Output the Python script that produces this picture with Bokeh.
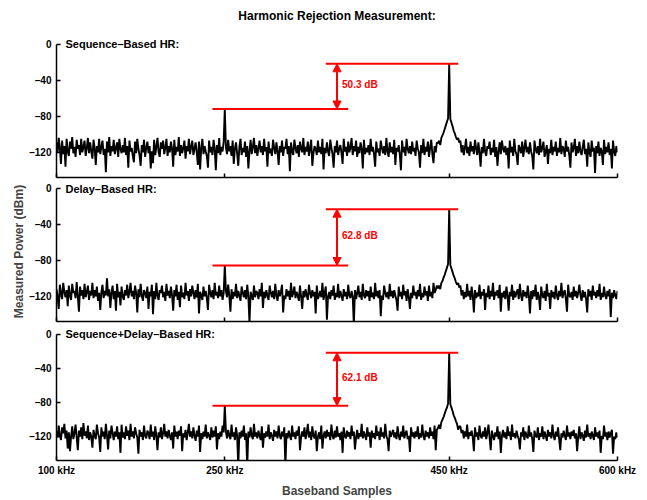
from bokeh.plotting import figure
from bokeh.layouts import column
from bokeh.models import Range1d, FixedTicker, Label, Arrow, NormalHead
from bokeh.embed import file_html
from bokeh.resources import INLINE

# ---------------- data ----------------
freq_start_khz = 100
freq_step_khz = 1

seq_db = [
    -109, -120, -104, -115, -133, -107, -122, -113, -136, -105, -119, -124, -108, -116, -103, -121, -114, -125, -106, -116,
    -112, -123, -105, -120, -114, -107, -124, -115, -104, -121, -109, -119, -127, -106, -115, -134, -113, -120, -105, -122,
    -114, -107, -123, -116, -142, -108, -120, -103, -124, -113, -119, -106, -122, -115, -109, -125, -105, -116, -121, -112,
    -120, -104, -123, -113, -137, -107, -119, -115, -124, -131, -108, -121, -105, -116, -123, -135, -112, -120, -106, -125,
    -115, -108, -121, -113, -138, -119, -132, -106, -123, -114, -104, -120, -125, -109, -116, -107, -122, -115, -105, -124,
    -113, -120, -108, -116, -136, -106, -123, -114, -119, -103, -124, -112, -121, -115, -107, -127, -113, -119, -105, -122,
    -114, -107, -123, -116, -109, -120, -134, -108, -139, -115, -105, -122, -113, -119, -124, -137, -107, -120, -114, -123,
    -106, -116, -140, -112, -121, -104, -123, -114, -119, -108, -71.8, -115, -122, -106, -119, -113, -124, -107, -133, -116,
    -109, -121, -135, -114, -105, -123, -115, -120, -108, -125, -113, -138, -119, -106, -122, -114, -104, -121, -112, -124,
    -115, -107, -120, -113, -123, -105, -119, -114, -136, -108, -121, -116, -124, -106, -115, -122, -109, -119, -134, -113,
    -120, -107, -124, -114, -116, -105, -122, -113, -141, -109, -119, -123, -106, -115, -121, -112, -125, -108, -116, -120,
    -104, -123, -114, -119, -108, -124, -115, -106, -135, -121, -113, -116, -123, -107, -120, -114, -122, -105, -139, -115,
    -121, -109, -119, -124, -106, -115, -122, -137, -113, -120, -107, -123, -116, -112, -121, -133, -105, -119, -114, -124,
    -108, -120, -115, -104, -123, -113, -119, -107, -125, -114, -121, -109, -116, -138, -106, -122, -115, -120, -112, -123,
    -105, -119, -114, -122, -136, -108, -120, -116, -124, -107, -115, -121, -113, -123, -104, -119, -125, -109, -120, -114,
    -122, -106, -134, -115, -119, -112, -123, -140, -107, -120, -114, -124, -105, -116, -121, -113, -122, -108, -119, -115,
    -124, -107, -116, -120, -137, -112, -121, -105, -123, -114, -119, -108, -125, -115, -106, -122, -132, -113, -120, -109,
    -110, -107, -112, -104, -101, -98, -94, -90, -86, -82, -21.5, -83, -87, -91, -96, -99, -103, -106, -104, -109,
    -107, -120, -112, -123, -115, -105, -121, -114, -124, -108, -119, -113, -122, -106, -116, -123, -109, -120, -136, -114,
    -121, -105, -119, -124, -113, -116, -108, -123, -115, -120, -106, -125, -114, -135, -119, -109, -122, -107, -116, -120,
    -113, -123, -115, -138, -107, -120, -114, -124, -105, -119, -122, -134, -112, -116, -121, -108, -125, -115, -106, -120,
    -114, -122, -109, -119, -124, -139, -107, -116, -121, -113, -123, -105, -120, -115, -108, -125, -119, -112, -133, -116,
    -121, -106, -123, -114, -119, -108, -124, -115, -120, -104, -122, -113, -116, -125, -107, -119, -114, -123, -137, -109,
    -120, -115, -105, -124, -113, -121, -108, -119, -123, -114, -106, -122, -116, -136, -109, -120, -125, -107, -119, -115,
    -143, -113, -121, -108, -124, -115, -119, -134, -106, -122, -114, -120, -109, -123, -116, -138, -107, -119, -124, -113,
    -120,
]

delay_db = [
    -112, -120, -134, -107, -116, -123, -105, -115, -121, -113, -131, -108, -119, -124, -106, -116, -114, -122, -104, -120,
    -137, -109, -119, -113, -123, -106, -121, -115, -108, -124, -114, -119, -105, -122, -113, -120, -109, -125, -116, -135,
    -115, -107, -122, -114, -119, -100, -120, -112, -133, -116, -108, -123, -114, -136, -106, -121, -115, -130, -109, -120,
    -124, -113, -119, -107, -122, -115, -105, -120, -114, -123, -108, -116, -138, -112, -121, -106, -119, -125, -113, -116,
    -122, -109, -134, -115, -120, -107, -140, -114, -123, -105, -119, -124, -113, -116, -108, -121, -115, -125, -106, -119,
    -114, -122, -109, -119, -136, -113, -120, -107, -124, -115, -132, -108, -121, -116, -123, -105, -119, -114, -125, -112,
    -120, -108, -116, -123, -113, -121, -106, -139, -115, -119, -124, -109, -120, -114, -122, -135, -107, -116, -121, -113,
    -123, -105, -119, -115, -122, -108, -120, -113, -124, -116, -85.6, -114, -121, -107, -119, -137, -112, -123, -115, -120,
    -106, -122, -114, -119, -125, -109, -116, -121, -113, -123, -107, -120, -150, -115, -119, -124, -108, -121, -114, -116,
    -123, -112, -120, -105, -133, -115, -122, -113, -119, -124, -108, -116, -121, -114, -123, -106, -119, -125, -113, -120,
    -115, -107, -138, -119, -123, -112, -120, -114, -124, -105, -121, -116, -109, -122, -115, -119, -125, -108, -120, -134,
    -114, -121, -112, -119, -124, -107, -116, -122, -113, -120, -115, -139, -108, -123, -119, -114, -121, -105, -124, -116,
    -109, -146, -120, -115, -123, -113, -119, -108, -124, -116, -121, -106, -122, -114, -119, -125, -112, -120, -115, -123,
    -107, -119, -122, -114, -120, -152, -113, -123, -116, -108, -121, -115, -124, -106, -119, -122, -113, -120, -114, -125,
    -109, -121, -116, -123, -105, -120, -114, -122, -113, -142, -119, -124, -108, -116, -121, -115, -123, -106, -120, -114,
    -122, -113, -119, -124, -136, -109, -120, -115, -123, -107, -119, -114, -125, -112, -121, -134, -116, -122, -108, -119,
    -115, -123, -113, -120, -106, -124, -116, -121, -109, -119, -114, -125, -108, -120, -115, -122, -105, -116, -113, -108,
    -111, -108, -112, -105, -103, -99, -96, -92, -88, -84, -22.8, -85, -89, -93, -97, -100, -104, -107, -105, -110,
    -108, -119, -113, -123, -115, -121, -106, -120, -114, -124, -109, -119, -138, -113, -122, -116, -120, -107, -123, -115,
    -119, -112, -135, -116, -121, -108, -123, -114, -120, -105, -124, -115, -119, -113, -122, -107, -137, -116, -121, -114,
    -123, -109, -119, -136, -115, -120, -107, -124, -114, -121, -116, -112, -123, -106, -119, -125, -113, -120, -115, -122,
    -108, -119, -139, -114, -123, -113, -120, -107, -124, -115, -121, -135, -109, -119, -122, -114, -125, -106, -120, -116,
    -134, -113, -121, -115, -123, -108, -119, -124, -114, -120, -105, -122, -116, -113, -123, -137, -107, -119, -121, -115,
    -124, -109, -120, -114, -122, -116, -107, -119, -125, -113, -121, -115, -123, -138, -112, -120, -114, -124, -108, -119,
    -115, -122, -113, -120, -106, -124, -116, -121, -109, -119, -123, -114, -120, -112, -143, -116, -122, -113, -119, -123,
    -114,
]

seq_delay_db = [
    -114, -121, -107, -119, -124, -109, -116, -105, -122, -113, -134, -115, -137, -120, -108, -123, -116, -106, -121, -136,
    -113, -120, -109, -123, -104, -119, -114, -122, -107, -124, -115, -120, -133, -112, -119, -123, -106, -116, -121, -138,
    -109, -120, -114, -123, -105, -119, -135, -113, -122, -107, -116, -124, -114, -120, -108, -123, -115, -139, -106, -121,
    -115, -123, -108, -119, -113, -124, -105, -120, -114, -122, -109, -116, -121, -140, -112, -120, -115, -124, -107, -119,
    -122, -113, -116, -123, -106, -120, -114, -124, -108, -119, -136, -115, -121, -109, -123, -116, -105, -120, -114, -122,
    -112, -119, -124, -115, -134, -107, -120, -114, -123, -113, -119, -108, -137, -116, -121, -112, -124, -115, -105, -120,
    -114, -122, -109, -119, -125, -113, -120, -107, -138, -116, -123, -114, -120, -106, -122, -115, -119, -124, -109, -121,
    -113, -120, -108, -135, -116, -123, -114, -120, -107, -115, -83.7, -114, -122, -112, -119, -123, -106, -120, -115, -124,
    -109, -119, -155, -115, -122, -113, -120, -107, -124, -116, -155, -114, -121, -109, -119, -123, -105, -120, -115, -122,
    -113, -119, -124, -108, -133, -116, -121, -114, -120, -106, -123, -115, -119, -125, -112, -120, -114, -122, -107, -119,
    -123, -114, -120, -109, -155, -116, -122, -113, -119, -124, -107, -120, -115, -123, -113, -119, -108, -136, -121, -114,
    -120, -109, -123, -116, -105, -121, -114, -124, -108, -119, -122, -113, -137, -120, -115, -123, -107, -134, -119, -114,
    -122, -112, -120, -115, -124, -106, -119, -123, -113, -121, -108, -120, -116, -124, -114, -139, -109, -119, -122, -113,
    -120, -115, -123, -107, -119, -114, -135, -121, -112, -123, -116, -120, -105, -122, -114, -119, -124, -109, -120, -115,
    -133, -113, -121, -116, -123, -107, -119, -114, -124, -109, -120, -115, -122, -105, -119, -123, -137, -113, -120, -116,
    -112, -121, -115, -123, -108, -119, -124, -114, -120, -107, -122, -116, -113, -123, -119, -138, -109, -120, -115, -122,
    -114, -120, -108, -123, -116, -121, -106, -119, -124, -113, -120, -115, -122, -109, -119, -114, -123, -107, -136, -112,
    -110, -106, -111, -103, -100, -97, -93, -89, -86, -81, -21.6, -82, -86, -90, -95, -98, -102, -105, -112, -108,
    -108, -116, -112, -122, -114, -120, -106, -123, -115, -119, -113, -121, -137, -109, -120, -115, -124, -107, -119, -122,
    -114, -120, -109, -123, -116, -106, -121, -136, -113, -119, -124, -115, -120, -108, -123, -114, -139, -119, -112, -121,
    -115, -123, -108, -119, -114, -124, -106, -120, -116, -122, -113, -119, -123, -135, -115, -120, -109, -124, -114, -119,
    -122, -107, -120, -115, -123, -138, -113, -119, -121, -109, -124, -116, -120, -108, -123, -114, -119, -125, -112, -120,
    -115, -122, -106, -119, -124, -114, -120, -109, -123, -136, -116, -121, -113, -119, -124, -107, -120, -115, -123, -114,
    -119, -112, -122, -116, -137, -120, -108, -123, -115, -119, -125, -113, -121, -106, -120, -116, -123, -114, -119, -124,
    -109, -120, -115, -122, -113, -139, -119, -123, -107, -120, -115, -124, -114, -121, -116, -112, -140, -120, -123, -115,
    -121,
]

panel_titles = ["Sequence\u2013Based HR:", "Delay\u2013Based HR:", "Sequence+Delay\u2013Based HR:"]
peak_db = [-21.5, -22.8, -21.6]   # fundamental at 450 kHz
spur_db = [-71.8, -85.6, -83.7]   # harmonic at 250 kHz

x_ticks = [100, 250, 450, 600]
x_tick_labels = ["100 kHz", "250 kHz", "450 kHz", "600 kHz"]
y_ticks = [-120, -80, -40, 0]
y_tick_labels = ["\u2013120", "\u201380", "\u201340", "0"]

title_text = "Harmonic Rejection Measurement:"
x_label = "Baseband Samples"
y_label = "Measured Power (dBm)"

FONT = "Liberation Sans"
RED = "#ff0000"
Y_MIN = -148


def make_panel(idx, series, height, top, bottom, y_top, last):
    p = figure(width=647, height=height, output_backend="svg", toolbar_location=None,
               x_range=Range1d(100, 600), y_range=Range1d(Y_MIN, y_top),
               min_border_left=56, min_border_right=30,
               min_border_top=top, min_border_bottom=bottom)
    p.outline_line_color = None
    p.grid.visible = False
    p.background_fill_color = "white"
    p.border_fill_color = "white"

    xs = [freq_start_khz + freq_step_khz * k for k in range(len(series))]
    p.line(xs, series, line_color="black", line_width=1.9)

    pk = peak_db[idx]
    sp = spur_db[idx]
    p.segment(x0=[340, 239], y0=[pk, sp], x1=[458, 360], y1=[pk, sp],
              line_color=RED, line_width=2)
    p.add_layout(Arrow(start=NormalHead(size=8, fill_color=RED, line_color=RED),
                       end=NormalHead(size=8, fill_color=RED, line_color=RED),
                       x_start=350, y_start=sp, x_end=350, y_end=pk,
                       line_color=RED, line_width=2))
    p.add_layout(Label(x=354.5, y=(pk + sp) / 2 + 2, text=f"{pk - sp:.1f} dB",
                       text_color=RED, text_font=FONT, text_font_style="bold",
                       text_font_size="10px", text_baseline="middle", text_align="left"))
    p.add_layout(Label(x=108, y=0, text=panel_titles[idx], text_color="black",
                       text_font=FONT, text_font_style="bold", text_font_size="11px",
                       text_baseline="middle", text_align="left"))

    for ax in (p.xaxis[0], p.yaxis[0]):
        ax.axis_line_width = 1.5
        ax.axis_line_color = "black"
        ax.major_tick_in = 4
        ax.major_tick_out = 0
        ax.major_tick_line_width = 1.5
        ax.minor_tick_line_color = None
        ax.major_label_text_font = FONT
        ax.major_label_text_font_style = "bold"
        ax.major_label_text_font_size = "10px"
        ax.major_label_text_color = "black"

    p.yaxis.ticker = FixedTicker(ticks=y_ticks)
    p.yaxis.bounds = (Y_MIN, 0)
    p.yaxis.major_label_overrides = dict(zip(y_ticks, y_tick_labels))
    p.yaxis.major_label_standoff = 5

    p.xaxis.ticker = FixedTicker(ticks=x_ticks)
    if last:
        p.xaxis.major_label_overrides = dict(zip(x_ticks, x_tick_labels))
        p.xaxis.major_label_standoff = 4
        p.xaxis.axis_label = x_label
        p.xaxis.axis_label_text_font = FONT
        p.xaxis.axis_label_text_font_style = "bold"
        p.xaxis.axis_label_text_font_size = "12px"
        p.xaxis.axis_label_standoff = 5
    else:
        p.xaxis.major_label_overrides = {t: "" for t in x_ticks}
        p.xaxis.major_label_standoff = 0

    if idx == 1:
        p.yaxis.axis_label = y_label
        p.yaxis.axis_label_text_font = FONT
        p.yaxis.axis_label_text_font_style = "bold"
        p.yaxis.axis_label_text_font_size = "12px"
        p.yaxis.axis_label_standoff = 0
    return p


p1 = make_panel(0, seq_db, 181, 8, 4, 40, False)
p1.add_layout(Label(x=350, y=32, text=title_text, text_color="black",
                    text_font=FONT, text_font_style="bold", text_font_size="12px",
                    text_baseline="middle", text_align="center"))
p2 = make_panel(1, delay_db, 146, 0, 6, 8, False)
p3 = make_panel(2, seq_delay_db, 173, 0, 33, 8, True)

layout = column(p1, p2, p3, spacing=0)
open("out.html", "w").write(file_html(layout, INLINE))
